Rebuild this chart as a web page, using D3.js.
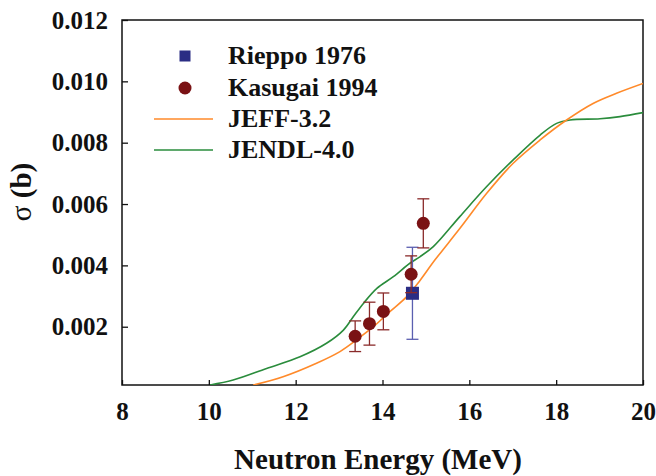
<!DOCTYPE html>
<html>
<head>
<meta charset="utf-8">
<script src="https://cdn.jsdelivr.net/npm/d3@7"></script>
<style>
  body { margin: 0; background: #fff; }
  text { font-family: "Liberation Serif", "Times New Roman", serif; font-weight: bold; }
</style>
</head>
<body>
<div id="chart"></div>
<script>
const rieppoE = [14.69];
const rieppoS = [0.00309];
const rieppoErr = [0.0015];

const kasugaiE = [13.37, 13.70, 14.02, 14.66, 14.94];
const kasugaiS = [0.00169, 0.00210, 0.00250, 0.00371, 0.00537];
const kasugaiErr = [0.0005, 0.0007, 0.0006, 0.0006, 0.0008];

// evaluated curves
const jeffE = [11.02, 11.71, 12.48, 13.02, 13.40, 13.79, 14.17, 14.56, 14.86, 15.21, 15.78, 16.40, 17.01, 17.63, 18.24, 18.85, 19.39, 20.0];
const jeffS = [0.0001, 0.00037, 0.00081, 0.00119, 0.00157, 0.00200, 0.00249, 0.00298, 0.00350, 0.00418, 0.00520, 0.00635, 0.00733, 0.00809, 0.00874, 0.00928, 0.00961, 0.00993];

const jendlE = [10.03, 10.56, 11.33, 12.10, 12.71, 13.10, 13.33, 13.56, 13.87, 14.25, 14.63, 14.86, 15.17, 15.78, 16.40, 17.01, 17.63, 18.01, 18.32, 19.01, 19.47, 20.0];
const jendlS = [0.0001, 0.00026, 0.00064, 0.00102, 0.00146, 0.00189, 0.00233, 0.00276, 0.00325, 0.00363, 0.00407, 0.00428, 0.00461, 0.00559, 0.00657, 0.00744, 0.00825, 0.00863, 0.00874, 0.00878, 0.00885, 0.00898];

const xTicks = [8, 10, 12, 14, 16, 18, 20];
const yTicks = [0.002, 0.004, 0.006, 0.008, 0.010, 0.012];
const legendLabels = ["Rieppo 1976", "Kasugai 1994", "JEFF-3.2", "JENDL-4.0"];

const colors = {
  rieppo: "#2b2d84", rieppoBar: "#5b5fb0",
  kasugai: "#7a1214", kasugaiBar: "#8a2a2a",
  jeff: "#ff8a2a", jendl: "#2a8c3c"
};

// layout
const W = 656, H = 476;
const margin = {top: 20, right: 13, bottom: 91, left: 122};
const width = W - margin.left - margin.right;
const height = H - margin.top - margin.bottom;

const svg = d3.select("#chart").append("svg")
  .attr("width", W).attr("height", H);

const g = svg.append("g")
  .attr("transform", `translate(${margin.left},${margin.top})`);

const x = d3.scaleLinear().domain([8, 20]).range([0, width]);
const y = d3.scaleLinear().domain([0.0001, 0.012]).range([height, 0]);

// clip for the curves
svg.append("defs").append("clipPath").attr("id", "plotclip")
  .append("rect").attr("width", width).attr("height", height);

// axes with inward ticks
const xAxis = g.append("g")
  .attr("transform", `translate(0,${height})`)
  .call(d3.axisBottom(x).tickValues(xTicks).tickFormat(d3.format("d"))
    .tickSizeInner(-5).tickSizeOuter(0).tickPadding(17));
const yAxis = g.append("g")
  .call(d3.axisLeft(y).tickValues(yTicks).tickFormat(d3.format(".3f"))
    .tickSizeInner(-6).tickSizeOuter(0).tickPadding(14));

[xAxis, yAxis].forEach(a => {
  a.select(".domain").remove();
  a.selectAll("line").attr("stroke", "#111").attr("stroke-width", 1.3);
  a.selectAll("text").attr("fill", "#111").style("font-size", "25px");
});

// frame
g.append("rect")
  .attr("width", width).attr("height", height)
  .attr("fill", "none").attr("stroke", "#111").attr("stroke-width", 1.5);

// curves
const line = d3.line().x(d => x(d[0])).y(d => y(d[1])).curve(d3.curveCatmullRom.alpha(0.5));
const curves = g.append("g").attr("clip-path", "url(#plotclip)");
curves.append("path")
  .datum(d3.zip(jendlE, jendlS))
  .attr("d", line).attr("fill", "none")
  .attr("stroke", colors.jendl).attr("stroke-width", 1.6);
curves.append("path")
  .datum(d3.zip(jeffE, jeffS))
  .attr("d", line).attr("fill", "none")
  .attr("stroke", colors.jeff).attr("stroke-width", 1.6);

// error bar helper
function errorBars(sel, E, S, Err, color) {
  const capW = 6;
  const bars = sel.selectAll(null).data(d3.zip(E, S, Err)).join("g");
  bars.append("line")
    .attr("x1", d => x(d[0])).attr("x2", d => x(d[0]))
    .attr("y1", d => y(d[1] - d[2])).attr("y2", d => y(d[1] + d[2]));
  bars.append("line")
    .attr("x1", d => x(d[0]) - capW).attr("x2", d => x(d[0]) + capW)
    .attr("y1", d => y(d[1] + d[2])).attr("y2", d => y(d[1] + d[2]));
  bars.append("line")
    .attr("x1", d => x(d[0]) - capW).attr("x2", d => x(d[0]) + capW)
    .attr("y1", d => y(d[1] - d[2])).attr("y2", d => y(d[1] - d[2]));
  bars.selectAll("line").attr("stroke", color).attr("stroke-width", 1.3);
}

// Rieppo 1976
const rg = g.append("g");
errorBars(rg, rieppoE, rieppoS, rieppoErr, colors.rieppoBar);
rg.selectAll("rect").data(d3.zip(rieppoE, rieppoS)).join("rect")
  .attr("x", d => x(d[0]) - 6.5).attr("y", d => y(d[1]) - 6.5)
  .attr("width", 13).attr("height", 13)
  .attr("fill", colors.rieppo);

// Kasugai 1994 (drawn on top, its lower cap shows across the square)
const kg = g.append("g");
errorBars(kg, kasugaiE, kasugaiS, kasugaiErr, colors.kasugaiBar);
kg.selectAll("circle").data(d3.zip(kasugaiE, kasugaiS)).join("circle")
  .attr("cx", d => x(d[0])).attr("cy", d => y(d[1]))
  .attr("r", 6.5).attr("fill", colors.kasugai);

// legend
const legend = svg.append("g");
const rowY = [56, 88, 119, 150];
legend.selectAll("text").data(legendLabels).join("text")
  .attr("x", 228).attr("y", (d, i) => rowY[i] + 8)
  .attr("fill", "#111").style("font-size", "26px")
  .text(d => d);
legend.append("rect").attr("x", 185 - 5.5).attr("y", rowY[0] - 5.5)
  .attr("width", 11).attr("height", 11).attr("fill", colors.rieppo);
legend.append("circle").attr("cx", 185).attr("cy", rowY[1]).attr("r", 6.5)
  .attr("fill", colors.kasugai);
legend.append("line").attr("x1", 154).attr("x2", 213)
  .attr("y1", rowY[2]).attr("y2", rowY[2])
  .attr("stroke", colors.jeff).attr("stroke-width", 1.6);
legend.append("line").attr("x1", 154).attr("x2", 213)
  .attr("y1", rowY[3]).attr("y2", rowY[3])
  .attr("stroke", colors.jendl).attr("stroke-width", 1.6);

// axis titles
svg.append("text")
  .attr("x", 378).attr("y", 469)
  .attr("text-anchor", "middle").attr("fill", "#111")
  .style("font-size", "29px")
  .text("Neutron Energy (MeV)");

const yt = svg.append("text")
  .attr("transform", "translate(31,192) rotate(-90)")
  .attr("text-anchor", "middle").attr("fill", "#111")
  .style("font-size", "29px");
yt.append("tspan").style("font-weight", "normal").text("σ");
yt.append("tspan").text(" (b)");
</script>
</body>
</html>
